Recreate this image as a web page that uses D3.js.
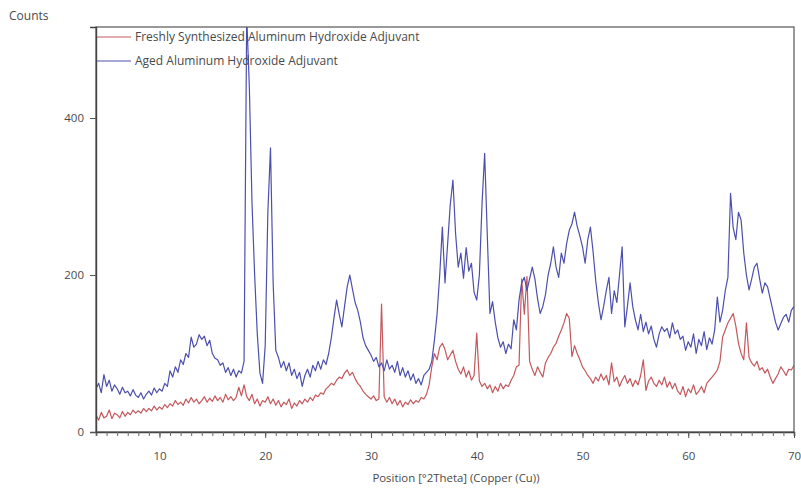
<!DOCTYPE html>
<html>
<head>
<meta charset="utf-8">
<script src="https://cdn.jsdelivr.net/npm/d3@7/dist/d3.min.js"></script>
<style>
  html, body { margin: 0; padding: 0; background: #fff; }
  svg { display: block; }
  text { font-family: "Open Sans", "Noto Sans", sans-serif; fill: #4a4a4a; }
</style>
</head>
<body>
<svg id="chart" width="801" height="488"></svg>
<script>
// Scan settings: 2θ from 4° to 70° in 0.25° steps
const thetaStart = 4;
const thetaStep = 0.25;

// Freshly synthesized adjuvant, counts per step (four values per degree)
const freshCounts = [
  22, 15, 25, 18,   20, 28, 17, 24,   22, 18, 26, 20,   25, 22, 28, 24,
  27, 24, 30, 26,   30, 27, 33, 28,   32, 29, 35, 31,   36, 33, 40, 35,
  38, 34, 42, 37,   44, 38, 42, 36,   40, 45, 38, 43,   39, 46, 40, 44,
  38, 48, 41, 45,   40, 44, 57, 46,   60, 45, 40, 48,   36, 42, 33, 40,
  38, 45, 36, 42,   34, 40, 32, 38,   35, 42, 30, 37,   33, 40, 36, 42,
  38, 44, 40, 47,   45, 50, 48, 55,   58, 62, 60, 66,   70, 68, 75, 79,
  72, 76, 68, 62,   58, 52, 48, 45,   42, 46, 40, 42,   163, 45, 38, 44,
  36, 42, 34, 40,   32, 38, 35, 41,   36, 40, 38, 44,   42, 48, 60, 83,
  100, 92, 108, 113, 105, 92, 98, 104, 90, 80, 74, 83,  70, 78, 66, 72,
  126, 65, 58, 62,  55, 60, 50, 58,   52, 62, 55, 60,   58, 66, 72, 83,
  85, 195, 150, 198, 90, 80, 72, 83,  76, 70, 88, 95,   100, 108, 113, 122,
  130, 139, 151, 145, 96, 110, 100, 92, 83, 78, 72, 68, 62, 70, 65, 74,
  66, 72, 60, 88,   64, 70, 58, 66,   72, 62, 68, 58,   66, 60, 72, 92,
  53, 65, 70, 62,   58, 66, 60, 70,   57, 64, 55, 62,   52, 48, 58, 45,
  55, 50, 60, 48,   52, 58, 50, 62,   66, 70, 74, 79,   90, 121, 130, 139,
  145, 151, 135, 113, 100, 92, 139, 95, 88, 84, 90, 79, 82, 75, 80, 70,
  62, 68, 74, 83,   78, 72, 80, 79,   85
];

// Aged adjuvant, counts per step (four values per degree)
const agedCounts = [
  55, 62, 50, 73,   58, 66, 52, 60,   55, 48, 57, 50,   52, 46, 54, 47,
  44, 50, 42, 48,   52, 47, 56, 50,   55, 52, 62, 58,   78, 70, 83, 76,
  92, 86, 100, 95,  121, 108, 112, 124, 118, 122, 110, 117, 100, 94, 92, 85,
  88, 76, 82, 72,   80, 70, 78, 75,   90, 530, 440, 292, 200, 125, 75, 62,
  110, 280, 362, 190, 104, 95, 82, 90, 78, 88, 72, 80,  68, 76, 58, 72,
  80, 70, 85, 78,   90, 80, 92, 86,   100, 120, 145, 168, 150, 134, 160, 185,
  200, 182, 165, 155, 140, 120, 110, 104, 98, 90, 95, 83, 88, 78, 92, 80,
  85, 76, 90, 72,   82, 70, 78, 66,   74, 62, 68, 60,   72, 76, 80, 90,
  117, 150, 200, 261, 190, 240, 290, 321, 253, 210, 228, 196, 235, 205, 215, 178,
  168, 200, 290, 355, 250, 151, 166, 140, 120, 108, 115, 100, 112, 106, 143, 130,
  168, 190, 197, 180, 195, 210, 195, 170, 151, 160, 175, 200, 215, 236, 210, 197,
  228, 215, 240, 257, 265, 280, 262, 250, 236, 215, 245, 261, 230, 193, 165, 143,
  160, 180, 197, 151, 180, 165, 200, 236, 134, 160, 190, 160, 143, 130, 150, 128,
  140, 125, 135, 118, 108, 125, 134, 128, 132, 120, 139, 125, 130, 118, 122, 104,
  115, 108, 125, 100, 118, 110, 128, 105, 120, 112, 130, 172, 140, 155, 180, 197,
  304, 260, 245, 280, 270, 228, 200, 181, 195, 210, 215, 195, 177, 190, 185, 170,
  155, 140, 130, 138, 146, 150, 140, 155, 160
];

const xTicks = [10, 20, 30, 40, 50, 60, 70];
const yTicks = [0, 200, 400];
const seriesNames = ["Freshly Synthesized Aluminum Hydroxide Adjuvant", "Aged Aluminum Hydroxide Adjuvant"];
const seriesColors = ["#c4585c", "#4d4fae"];

const margin = { left: 96, right: 7, top: 27, bottom: 56 };
const width = 801, height = 488;
const plotW = width - margin.left - margin.right;
const plotH = height - margin.top - margin.bottom;

const svg = d3.select("#chart");
const x = d3.scaleLinear().domain([4, 70]).range([margin.left, margin.left + plotW]);
const y = d3.scaleLinear().domain([0, 516]).range([margin.top + plotH, margin.top]);

svg.append("defs").append("clipPath").attr("id", "plotClip")
  .append("rect").attr("x", margin.left).attr("y", margin.top)
  .attr("width", plotW).attr("height", plotH);

const toPoints = arr => arr.map((v, i) => [thetaStart + i * thetaStep, v]);
const line = d3.line().x(d => x(d[0])).y(d => y(d[1]));

const lines = svg.append("g").attr("clip-path", "url(#plotClip)");
[freshCounts, agedCounts].forEach((arr, k) => {
  lines.append("path")
    .datum(toPoints(arr))
    .attr("d", line)
    .attr("fill", "none")
    .attr("stroke", seriesColors[k])
    .attr("stroke-width", 1.2)
    .attr("stroke-linejoin", "round");
});

// Frame
svg.append("rect")
  .attr("x", margin.left).attr("y", margin.top)
  .attr("width", plotW).attr("height", plotH)
  .attr("fill", "none").attr("stroke", "#555").attr("stroke-width", 1.2);

// X axis: major ticks every 10°, minor every 1°
const xAxis = svg.append("g").attr("transform", `translate(0,${margin.top + plotH})`);
xAxis.call(d3.axisBottom(x).tickValues(d3.range(4, 71, 1)).tickSize(4).tickFormat(""))
  .call(g => g.select(".domain").attr("stroke", "#444").attr("stroke-width", 1.6))
  .call(g => g.selectAll(".tick line").attr("stroke", "#666"));
xAxis.append("g")
  .call(d3.axisBottom(x).tickValues(xTicks).tickSize(6).tickPadding(14).tickFormat(d3.format("d")))
  .call(g => g.select(".domain").remove())
  .call(g => g.selectAll(".tick line").attr("stroke", "#555"))
  .call(g => g.selectAll(".tick text").attr("font-size", 11.5).style("fill", "#4a4a4a")
    .attr("font-family", "Open Sans, sans-serif"));

// Y axis
const yAxis = svg.append("g").attr("transform", `translate(${margin.left},0)`);
yAxis.call(d3.axisLeft(y).tickValues(yTicks).tickSize(6).tickPadding(6).tickFormat(d3.format("d")))
  .call(g => g.select(".domain").attr("stroke", "#444").attr("stroke-width", 1.4))
  .call(g => g.selectAll(".tick line").attr("stroke", "#555"))
  .call(g => g.selectAll(".tick text").attr("font-size", 11.5).style("fill", "#4a4a4a")
    .attr("font-family", "Open Sans, sans-serif"));

// Axis titles
svg.append("text").attr("x", 9).attr("y", 20)
  .attr("font-size", 12).text("Counts");
svg.append("text").attr("x", 456).attr("y", 482)
  .attr("text-anchor", "middle").attr("font-size", 11.4)
  .text("Position [°2Theta] (Copper (Cu))");

// Legend
const legend = svg.append("g");
seriesNames.forEach((name, k) => {
  const ly = 37 + k * 24;
  legend.append("line")
    .attr("x1", margin.left + 1).attr("x2", margin.left + 35)
    .attr("y1", ly).attr("y2", ly)
    .attr("stroke", seriesColors[k]).attr("stroke-width", 1);
  legend.append("text")
    .attr("x", margin.left + 39).attr("y", ly + 4)
    .attr("font-size", 12).text(name);
});
</script>
</body>
</html>
